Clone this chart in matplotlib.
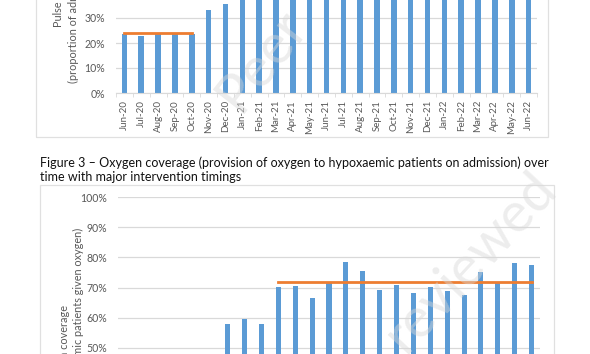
import matplotlib
matplotlib.use("Agg")
import matplotlib.pyplot as plt
from matplotlib.patches import Rectangle
from matplotlib.ticker import PercentFormatter, MultipleLocator, FixedLocator

plt.rcParams['font.family'] = ['Lato', 'DejaVu Sans']

months = ['Jun-20', 'Jul-20', 'Aug-20', 'Sep-20', 'Oct-20', 'Nov-20', 'Dec-20',
          'Jan-21', 'Feb-21', 'Mar-21', 'Apr-21', 'May-21', 'Jun-21', 'Jul-21',
          'Aug-21', 'Sep-21', 'Oct-21', 'Nov-21', 'Dec-21', 'Jan-22', 'Feb-22',
          'Mar-22', 'Apr-22', 'May-22', 'Jun-22']

# figure 2 (pulse oximetry) - bars from Jan-21 run off the top of the page
pulse_ox = [0.235, 0.23, 0.235, 0.235, 0.235, 0.332, 0.356,
            0.62, 0.70, 0.74, 0.76, 0.78, 0.80, 0.81,
            0.82, 0.83, 0.84, 0.84, 0.85, 0.85, 0.86,
            0.86, 0.87, 0.87, 0.88]
pulse_ref = 0.239
pulse_ref_span = (0, 4)

# figure 3 (oxygen coverage) - first months sit below the visible cut
oxygen = [0.40, 0.42, 0.41, 0.43, 0.44, 0.45, 0.579,
          0.596, 0.579, 0.701, 0.704, 0.664, 0.716, 0.784,
          0.754, 0.692, 0.707, 0.681, 0.701, 0.690, 0.676,
          0.750, 0.716, 0.782, 0.776]
oxygen_ref = 0.718
oxygen_ref_span = (9, 24)

caption = ("Figure 3 \u2013 Oxygen coverage (provision of oxygen to hypoxaemic patients on admission) over\n"
           "time with major intervention timings")

W, H = 590, 354
fig = plt.figure(figsize=(W / 100, H / 100), dpi=100)
fig.patch.set_facecolor('white')

blue = '#5B9BD5'
orange = '#ED7D31'
grid = '#d9d9d9'
txt = '#595959'


def px_axes(x0, y0, x1, y1):
    # pixel box (top-left origin) -> figure axes
    return fig.add_axes([x0 / W, 1 - y1 / H, (x1 - x0) / W, (y1 - y0) / H])


def style(ax):
    for s in ['top', 'right', 'left']:
        ax.spines[s].set_visible(False)
    ax.spines['bottom'].set_color(grid)
    ax.yaxis.set_major_formatter(PercentFormatter(1.0, decimals=0))
    ax.yaxis.set_major_locator(MultipleLocator(0.1))
    ax.grid(axis='y', color=grid, linewidth=0.9)
    ax.set_axisbelow(True)
    ax.tick_params(axis='y', length=0, labelsize=7.6, labelcolor=txt, pad=8)
    ax.set_xlim(-0.5, len(months) - 0.5)


# page boxes round the charts
fig.add_artist(Rectangle((36 / W, 1 - 137 / H), (548 - 36) / W, 1.0, transform=fig.transFigure,
                         fill=False, edgecolor='#e0e0e0', linewidth=0.9))
fig.add_artist(Rectangle((40 / W, -0.2), (554 - 40) / W, 1 - 185 / H + 0.2, transform=fig.transFigure,
                         fill=False, edgecolor='#e0e0e0', linewidth=0.9))

# top chart
ax1 = px_axes(116, 0, 537, 93)
style(ax1)
x = range(len(months))
ax1.bar(x, pulse_ox, width=0.33, color=blue, zorder=2)
ax1.plot(pulse_ref_span, [pulse_ref, pulse_ref], color=orange, linewidth=2, zorder=3)
ax1.set_ylim(0, 0.372)
ax1.set_xticks(list(x))
ax1.set_xticklabels(months, rotation=90, fontsize=7, color=txt)
ax1.tick_params(axis='x', length=0, pad=5)
ax1.xaxis.set_minor_locator(FixedLocator([i - 0.5 for i in range(len(months) + 1)]))
ax1.tick_params(axis='x', which='minor', length=3, color=grid)

fig.text(59 / W, 1 + 32 / H, 'Pulse oximetry coverage', rotation=90, ha='center', va='center',
         fontsize=7.8, color=txt)
fig.text(73 / W, 1 + 32 / H, '(proportion of admissions with SpO2 measured)', rotation=90,
         ha='center', va='center', fontsize=7.8, color=txt)

# caption
fig.text(40 / W, 1 - 156 / H, caption, ha='left', va='top', fontsize=9.0, color='#111111',
         linespacing=1.2)

# bottom chart
ax2 = px_axes(118, 197, 540, 354)
style(ax2)
ax2.bar(x, oxygen, width=0.3, color=blue, zorder=2)
ax2.plot(oxygen_ref_span, [oxygen_ref, oxygen_ref], color=orange, linewidth=2, zorder=3)
ax2.set_ylim(0.48, 1.0)
ax2.set_xticks([])
ax2.spines['bottom'].set_visible(False)

fig.text(65 / W, 1 - 347 / H, 'Oxygen coverage', rotation=90, ha='center', va='center',
         fontsize=7.8, color=txt)
fig.text(78 / W, 1 - 347 / H, '(proportion of hypoxaemic patients given oxygen)', rotation=90,
         ha='center', va='center', fontsize=7.8, color=txt)

# faint watermark
fig.text(262 / W, 1 - 60 / H, 'Peer', rotation=52, ha='center', va='center', fontsize=40,
         color='#d8d8d8', alpha=0.45, zorder=10)
fig.text(470 / W, 1 - 262 / H, 'reviewed', rotation=47, ha='center', va='center', fontsize=40,
         color='#d8d8d8', alpha=0.45, zorder=10)

fig.savefig('out.png', dpi=100)
